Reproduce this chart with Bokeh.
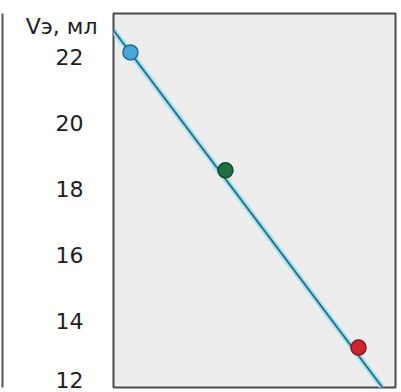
from bokeh.plotting import figure
from bokeh.models import FixedTicker, LinearAxis
from bokeh.embed import file_html
from bokeh.resources import INLINE

# data
point_x = [0.6, 3.97, 8.69]
point_y = [22.15, 18.58, 13.21]
point_fill = ["#4aa8d8", "#1e7040", "#cc2530"]
point_line = ["#1f6a9a", "#124a28", "#8a1418"]
line_x = [0.0, 9.54]
line_y = [22.82, 12.0]
y_ticks = [12, 14, 16, 18, 20, 22]
unit_label = "Vэ, мл"
unit_label_at = 22.94

p = figure(width=401, height=392, output_backend="svg", toolbar_location=None,
           x_range=(0, 10), y_range=(12, 23.33), x_axis_location=None,
           min_border_left=113, min_border_right=6, min_border_top=13, min_border_bottom=5)
p.background_fill_color = "#ededed"
p.border_fill_color = "white"
p.outline_line_color = "#4a4a4a"
p.outline_line_width = 2
p.xgrid.grid_line_color = None
p.ygrid.grid_line_color = None

overrides = {t: f"{t}\u2007" for t in y_ticks}
overrides[unit_label_at] = unit_label

ax = p.yaxis[0]
ax.ticker = FixedTicker(ticks=y_ticks + [unit_label_at])
ax.major_label_overrides = overrides
ax.axis_line_color = None
ax.major_tick_line_color = None
ax.minor_tick_line_color = None
ax.major_label_standoff = 10
ax.major_label_text_font = "DejaVu Sans"
ax.major_label_text_font_size = "22px"
ax.major_label_text_color = "#1e1e1e"
ax.axis_label = "\u2007"
ax.axis_label_text_font_size = "14px"
ax.axis_label_standoff = 1

# edge of the neighbouring panel on the left
edge = LinearAxis(ticker=FixedTicker(ticks=[]), axis_line_color="#555555", axis_line_width=2,
                  major_tick_line_color=None, minor_tick_line_color=None,
                  major_label_text_font_size="0px")
p.add_layout(edge, "left")

p.line(line_x, line_y, line_color="#a8e4f0", line_width=6)
p.line(line_x, line_y, line_color="#2a6f88", line_width=2)
p.scatter(point_x, point_y, size=15, fill_color=point_fill, line_color=point_line, line_width=1.5)

open("out.html", "w").write(file_html(p, INLINE))
